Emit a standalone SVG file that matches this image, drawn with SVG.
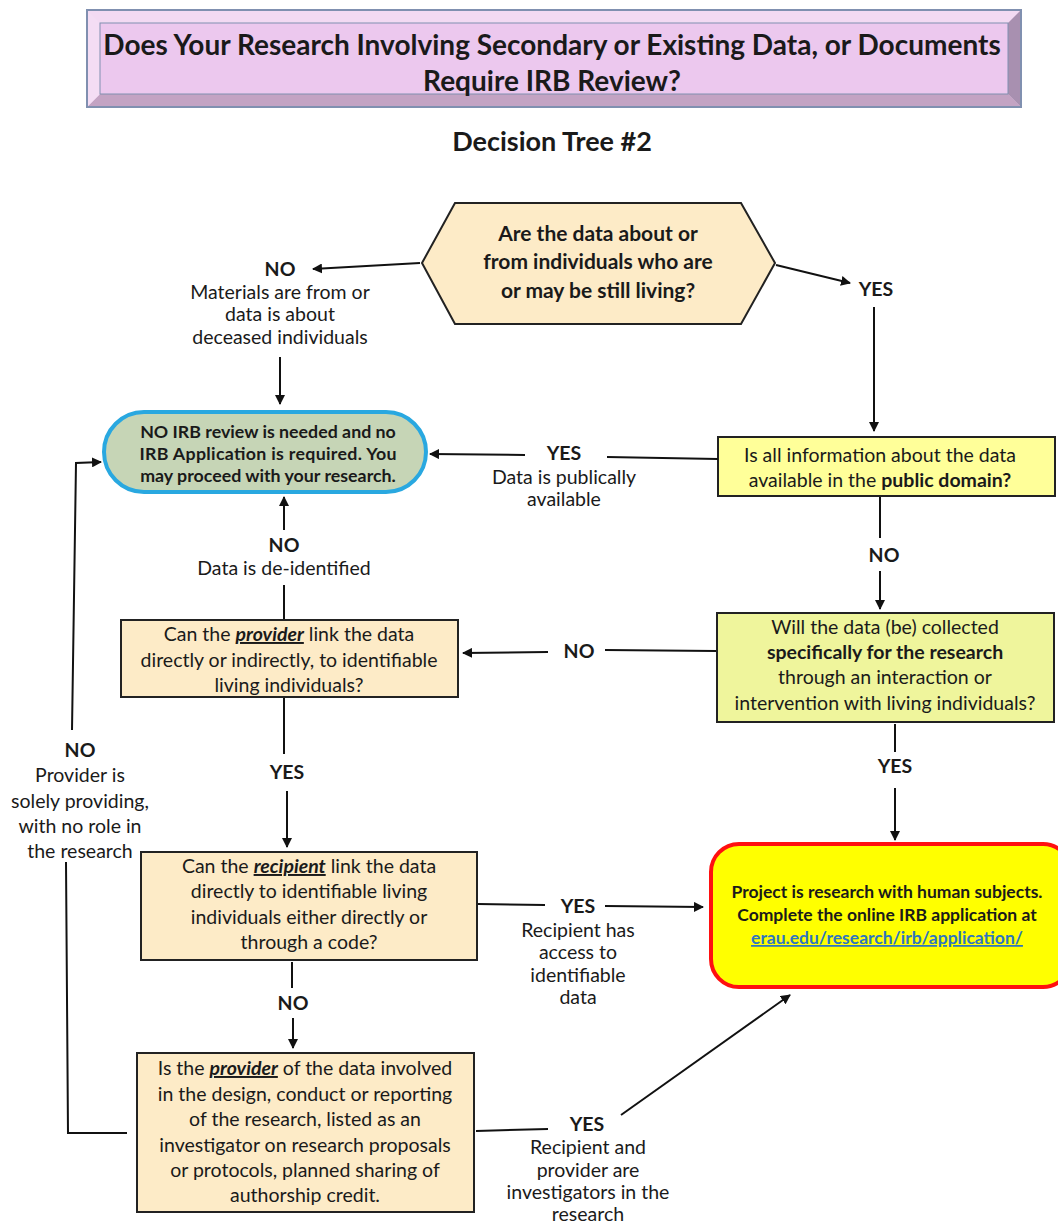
<svg xmlns="http://www.w3.org/2000/svg" width="1058" height="1226" viewBox="0 0 1058 1226">
<style>
text{font-family:Lato,"Carlito","Open Sans","Liberation Sans",sans-serif;fill:#1a1a1a;text-anchor:middle}
.t{font-size:19.5px}
.b{font-weight:bold}
.lbl{font-size:19.5px;font-weight:bold}
.hx{font-size:21px;font-weight:bold}
.gr{font-size:17.8px;font-weight:bold}
.rd{font-size:17.5px;font-weight:bold}
.box{stroke:#222;stroke-width:2}
.cream{fill:#fdebc7}
.ln{stroke:#111;stroke-width:2;fill:none}
</style>
<defs>
<marker id="ah" viewBox="0 0 10 10" refX="9" refY="5" markerWidth="10" markerHeight="10" markerUnits="userSpaceOnUse" orient="auto">
<path d="M0,0 L10,5 L0,10 z" fill="#111"/>
</marker>
</defs>

<g id="title">
<rect x="87" y="10" width="934" height="97" fill="#f2d6f2" stroke="#8090b0" stroke-width="2"/>
<polygon points="87,10 1021,10 1008,23 100,23" fill="#f3daf3"/>
<polygon points="87,107 1021,107 1008,94 100,94" fill="#c3a3c3"/>
<polygon points="87,10 100,23 100,94 87,107" fill="#f4ddf4"/>
<polygon points="1021,10 1008,23 1008,94 1021,107" fill="#a890b0"/>
<rect x="100" y="23" width="908" height="71" fill="#ecc8ee" stroke="#8090b0" stroke-width="1"/>
<rect x="87" y="10" width="934" height="97" fill="none" stroke="#8090b0" stroke-width="2"/>
<text x="552" y="55" class="b" style="font-size:28px">Does Your Research Involving Secondary or Existing Data, or Documents</text>
<text x="552" y="91" class="b" style="font-size:28px">Require IRB Review?</text>
</g>

<g id="subtitle">
<text x="552" y="151" class="b" style="font-size:27px">Decision Tree #2</text>
</g>

<g id="q1">
<polygon points="422,263 455,203 741,203 775,263 741,324 455,324" class="box cream"/>
<text x="598" y="241" class="hx">Are the data about or</text>
<text x="598" y="269" class="hx">from individuals who are</text>
<text x="598" y="298" class="hx">or may be still living?</text>
</g>

<g id="noirb">
<rect x="104" y="412" width="322" height="80" rx="40" ry="40" fill="#c6d5b6" stroke="#29a8e0" stroke-width="4"/>
<text x="268" y="438" class="gr">NO IRB review is needed and no</text>
<text x="268" y="460" class="gr" textLength="257" lengthAdjust="spacing">IRB Application is required. You</text>
<text x="268" y="482" class="gr">may proceed with your research.</text>
</g>

<g id="q2">
<rect x="718" y="437" width="337" height="59" class="box" fill="#ffff99"/>
<text x="880" y="462" class="t">Is all information about the data</text>
<text x="880" y="487" class="t">available in the <tspan class="b">public domain?</tspan></text>
</g>

<g id="q3">
<rect x="717" y="613" width="337" height="109" class="box" fill="#eff59c"/>
<text x="885" y="634" class="t">Will the data (be) collected</text>
<text x="885" y="659" class="t b">specifically for the research</text>
<text x="885" y="684" class="t">through an interaction or</text>
<text x="885" y="710" class="t">intervention with living individuals?</text>
</g>

<g id="q4">
<rect x="121" y="620" width="337" height="77" class="box cream"/>
<text x="289" y="641" class="t">Can the <tspan class="b" font-style="italic" text-decoration="underline">provider</tspan> link the data</text>
<text x="289" y="667" class="t">directly or indirectly, to identifiable</text>
<text x="289" y="692" class="t">living individuals?</text>
</g>

<g id="q5">
<rect x="141" y="852" width="336" height="108" class="box cream"/>
<text x="309" y="873" class="t">Can the <tspan class="b" font-style="italic" text-decoration="underline">recipient</tspan> link the data</text>
<text x="309" y="898" class="t">directly to identifiable living</text>
<text x="309" y="924" class="t">individuals either directly or</text>
<text x="309" y="949" class="t">through a code?</text>
</g>

<g id="q6">
<rect x="137" y="1053" width="337" height="159" class="box cream"/>
<text x="305" y="1075" class="t">Is the <tspan class="b" font-style="italic" text-decoration="underline">provider</tspan> of the data involved</text>
<text x="305" y="1101" class="t">in the design, conduct or reporting</text>
<text x="305" y="1126" class="t">of the research, listed as an</text>
<text x="305" y="1152" class="t">investigator on research proposals</text>
<text x="305" y="1177" class="t">or protocols, planned sharing of</text>
<text x="305" y="1202" class="t">authorship credit.</text>
</g>

<g id="human">
<rect x="711" y="844" width="360" height="143" rx="28" ry="28" fill="#ffff00" stroke="#ff1010" stroke-width="4"/>
<text x="887" y="898" class="rd">Project is research with human subjects.</text>
<text x="887" y="921" class="rd">Complete the online IRB application at</text>
<text x="887" y="944" class="rd" style="fill:#2e75c0" text-decoration="underline">erau.edu/research/irb/application/</text>
</g>

<g id="connectors">
<line x1="420" y1="263" x2="313" y2="269" class="ln" marker-end="url(#ah)"/>
<line x1="280" y1="357" x2="280" y2="404" class="ln" marker-end="url(#ah)"/>
<line x1="776" y1="265" x2="850" y2="283" class="ln" marker-end="url(#ah)"/>
<line x1="874" y1="307" x2="874" y2="431" class="ln" marker-end="url(#ah)"/>
<line x1="718" y1="459" x2="607" y2="457" class="ln"/>
<line x1="525" y1="455" x2="430" y2="454" class="ln" marker-end="url(#ah)"/>
<line x1="880" y1="497" x2="880" y2="538" class="ln"/>
<line x1="880" y1="571" x2="880" y2="609" class="ln" marker-end="url(#ah)"/>
<line x1="716" y1="651" x2="605" y2="650" class="ln"/>
<line x1="548" y1="652" x2="463" y2="653" class="ln" marker-end="url(#ah)"/>
<line x1="284" y1="619" x2="284" y2="585" class="ln"/>
<line x1="284" y1="530" x2="284" y2="497" class="ln" marker-end="url(#ah)"/>
<line x1="284" y1="698" x2="284" y2="754" class="ln"/>
<line x1="287" y1="791" x2="287" y2="847" class="ln" marker-end="url(#ah)"/>
<line x1="895" y1="724" x2="895" y2="752" class="ln"/>
<line x1="895" y1="788" x2="895" y2="840" class="ln" marker-end="url(#ah)"/>
<line x1="478" y1="904" x2="545" y2="905" class="ln"/>
<line x1="605" y1="906" x2="703" y2="907" class="ln" marker-end="url(#ah)"/>
<line x1="292" y1="962" x2="292" y2="988" class="ln"/>
<line x1="293" y1="1018" x2="293" y2="1048" class="ln" marker-end="url(#ah)"/>
<line x1="476" y1="1131" x2="548" y2="1129" class="ln"/>
<line x1="621" y1="1115" x2="790" y2="995" class="ln" marker-end="url(#ah)"/>
<polyline points="127,1133 68,1133 66,862" class="ln"/>
<polyline points="72,730 76,463 101,462" class="ln" marker-end="url(#ah)"/>
</g>

<g id="labels">
<text x="280" y="276" class="lbl">NO</text>
<text x="280" y="299" class="t">Materials are from or</text>
<text x="280" y="321" class="t">data is about</text>
<text x="280" y="344" class="t">deceased individuals</text>
<text x="876" y="296" class="lbl">YES</text>
<text x="564" y="460" class="lbl">YES</text>
<text x="564" y="484" class="t">Data is publically</text>
<text x="564" y="506" class="t">available</text>
<text x="884" y="562" class="lbl">NO</text>
<text x="579" y="658" class="lbl">NO</text>
<text x="284" y="552" class="lbl">NO</text>
<text x="284" y="575" class="t">Data is de-identified</text>
<text x="287" y="779" class="lbl">YES</text>
<text x="895" y="773" class="lbl">YES</text>
<text x="578" y="913" class="lbl">YES</text>
<text x="578" y="937" class="t">Recipient has</text>
<text x="578" y="959" class="t">access to</text>
<text x="578" y="982" class="t">identifiable</text>
<text x="578" y="1004" class="t">data</text>
<text x="293" y="1010" class="lbl">NO</text>
<text x="587" y="1131" class="lbl">YES</text>
<text x="588" y="1154" class="t">Recipient and</text>
<text x="588" y="1177" class="t">provider are</text>
<text x="588" y="1199" class="t">investigators in the</text>
<text x="588" y="1221" class="t">research</text>
<text x="80" y="757" class="lbl">NO</text>
<text x="80" y="782" class="t">Provider is</text>
<text x="80" y="808" class="t">solely providing,</text>
<text x="80" y="833" class="t">with no role in</text>
<text x="80" y="858" class="t">the research</text>
</g>
</svg>
